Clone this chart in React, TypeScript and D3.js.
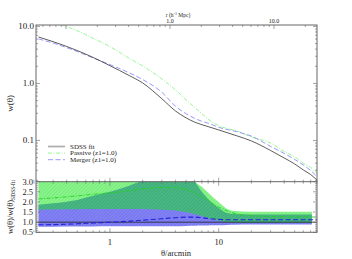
import React from 'react';
import * as d3 from 'd3';

// upper panel: w(theta) curves
const theta = [0.22, 0.3, 0.5, 0.7, 1, 1.5, 2, 3, 4, 5, 6, 7, 8, 10, 15, 20, 30, 40, 50, 60, 70, 80];
const wSdss = [6.54, 5.41, 3.78, 2.86, 2.05, 1.38, 1.02, 0.54, 0.33, 0.25, 0.21, 0.189, 0.175, 0.153, 0.119, 0.098, 0.0667, 0.0493, 0.0387, 0.0304, 0.0253, 0.0203];
const wPassive = [14.7, 12, 8.4, 6.2, 4.44, 2.77, 2.03, 1.2, 0.775, 0.52, 0.38, 0.295, 0.236, 0.182, 0.145, 0.115, 0.0902, 0.0641, 0.0514, 0.0398, 0.0336, 0.0266];
const wMerger = [6.04, 5.11, 3.63, 2.81, 2.14, 1.54, 1.17, 0.7, 0.4, 0.295, 0.245, 0.217, 0.201, 0.17, 0.141, 0.119, 0.0787, 0.0594, 0.0464, 0.0372, 0.0298, 0.0233];

// lower panel: ratio bands and mean ratios
const bandTheta = [0.22, 0.3, 0.5, 0.7, 1, 1.5, 2, 3, 4, 5, 6, 7, 8, 9, 10, 12, 14, 20, 30, 50, 72];
const passiveHi = [3.5, 3.5, 3.5, 3.5, 3.5, 3.5, 3.5, 3.5, 3.5, 3.3, 3.0, 2.75, 2.45, 2.2, 2.0, 1.65, 1.55, 1.52, 1.52, 1.52, 1.52];
const passiveLo = [1.62, 1.63, 1.64, 1.65, 1.65, 1.65, 1.65, 1.62, 1.58, 1.5, 1.4, 1.3, 1.2, 1.12, 1.08, 1.0, 0.98, 0.97, 0.97, 0.97, 0.97];
const mergerHi = [1.86, 1.93, 2.1, 2.3, 2.5, 2.8, 3.05, 3.3, 3.3, 3.2, 3.0, 2.5, 2.15, 1.9, 1.7, 1.45, 1.4, 1.38, 1.38, 1.38, 1.38];
const mergerLo = [0.78, 0.78, 0.79, 0.79, 0.8, 0.8, 0.8, 0.8, 0.8, 0.81, 0.82, 0.83, 0.84, 0.85, 0.85, 0.86, 0.87, 0.88, 0.88, 0.88, 0.88];

const lineTheta = [0.22, 0.3, 0.5, 0.7, 1, 1.5, 2, 3, 4, 5, 6, 7, 8, 10, 12, 15, 20, 30, 40, 50, 60, 80];
const passiveRatio = [2.15, 2.2, 2.3, 2.38, 2.45, 2.55, 2.65, 2.72, 2.7, 2.62, 2.45, 2.25, 2.05, 1.75, 1.55, 1.4, 1.32, 1.28, 1.27, 1.26, 1.26, 1.25];
const mergerRatio = [0.87, 0.88, 0.92, 0.96, 1.0, 1.05, 1.1, 1.17, 1.22, 1.25, 1.25, 1.22, 1.18, 1.14, 1.12, 1.12, 1.12, 1.12, 1.12, 1.12, 1.12, 1.12];

const upperTicks = [0.1, 1, 10];
const upperTickLabels = ['0.1', '1.0', '10.0'];
const lowerTicks = [0.5, 1.0, 1.5, 2.0, 2.5, 3.0];
const thetaTicks = [1, 10];
const rTicks = [1, 10];
const rTickLabels = ['1.0', '10.0'];

const legendItems = ['SDSS fit', 'Passive (z1=1.0)', 'Merger (z1=1.0)'];

const W = 352;
const H = 259;
const left = 36;
const right = 317;
const top = 25;
const mid = 181.7;
const bottom = 232.3;
const font = 'Liberation Serif, DejaVu Serif, serif';
const frame = '#666';

function logMinors(lo: number, hi: number) {
  const out: { v: number; major: boolean }[] = [];
  for (let e = Math.floor(Math.log10(lo)); e <= Math.ceil(Math.log10(hi)); e++) {
    for (let k = 1; k <= 9; k++) {
      const v = k * Math.pow(10, e);
      if (v >= lo && v <= hi) out.push({ v, major: k === 1 });
    }
  }
  return out;
}

export default function App() {
  const x = d3.scaleLog().domain([0.209, 80.2]).range([left, right]);
  const xr = d3.scaleLog().domain([0.0515, 25.9]).range([left, right]);
  const yU = d3.scaleLog().domain([0.0189, 10.6]).range([mid, top]);
  const yL = d3.scaleLinear().domain([0.5, 3.0]).range([bottom, mid]);

  const upLine = (vals: number[]) =>
    d3.line<number>().x((_, i) => x(theta[i])).y(d => yU(d)).curve(d3.curveMonotoneX)(vals) || '';
  const loLine = (vals: number[]) =>
    d3.line<number>().x((_, i) => x(lineTheta[i])).y(d => yL(d)).curve(d3.curveMonotoneX)(vals) || '';
  const band = (lo: number[], hi: number[]) =>
    d3.area<number>().x((_, i) => x(bandTheta[i])).y0((_, i) => yL(lo[i])).y1((_, i) => yL(hi[i])).curve(d3.curveMonotoneX)(lo) || '';

  const xMinor = logMinors(0.2, 80);
  const rMinor = logMinors(0.06, 25);
  const yUMinor = logMinors(0.02, 10.6);
  const yLMinor = d3.range(0.5, 3.01, 0.1);

  return (
    <svg width={W} height={H} style={{ position: 'absolute', left: 0, top: 0 }} fontFamily={font}>
      <defs>
        <clipPath id="clipU"><rect x={left} y={top} width={right - left} height={mid - top} /></clipPath>
        <clipPath id="clipL"><rect x={left} y={mid} width={right - left} height={bottom - mid} /></clipPath>
        <pattern id="hatchB" width={2.5} height={2.5} patternUnits="userSpaceOnUse" patternTransform="rotate(45)">
          <rect width={2.5} height={2.5} fill="#8282f4" />
          <line x1={0} y1={0} x2={0} y2={2.5} stroke="#6464e4" strokeWidth={0.8} />
        </pattern>
        <pattern id="hatchG" width={2.5} height={2.5} patternUnits="userSpaceOnUse" patternTransform="rotate(45)">
          <rect width={2.5} height={2.5} fill="rgba(20,235,20,0.5)" />
          <line x1={0} y1={0} x2={0} y2={2.5} stroke="rgba(0,150,60,0.3)" strokeWidth={0.8} />
        </pattern>
      </defs>
      <rect x={0} y={0} width={W} height={H} fill="#fff" />

      {/* upper panel curves */}
      <g clipPath="url(#clipU)" fill="none">
        <path d={upLine(wPassive)} stroke="#7cf27c" strokeWidth={0.8} strokeDasharray="4,1.5,1,1.5" />
        <path d={upLine(wMerger)} stroke="#7d7df5" strokeWidth={0.8} strokeDasharray="5,2.5" />
        <path d={upLine(wSdss)} stroke="#333" strokeWidth={0.8} />
      </g>

      {/* lower panel bands */}
      <g clipPath="url(#clipL)">
        <path d={band(mergerLo, mergerHi)} fill="url(#hatchB)" />
        <path d={band(passiveLo, passiveHi)} fill="url(#hatchG)" />
        <line x1={left} x2={right} y1={yL(1)} y2={yL(1)} stroke="#222" strokeWidth={0.8} />
        <path d={loLine(passiveRatio)} fill="none" stroke="#1fd21f" strokeWidth={0.9} strokeDasharray="4,1.5,1,1.5" />
        <path d={loLine(mergerRatio)} fill="none" stroke="#2222d8" strokeWidth={1.1} strokeDasharray="5,2.5" />
      </g>

      {/* frames */}
      <rect x={left} y={top} width={right - left} height={bottom - top} fill="none" stroke={frame} strokeWidth={1} />
      <line x1={left} x2={right} y1={mid} y2={mid} stroke={frame} strokeWidth={1} />

      {/* theta ticks: upper bottom, lower top, lower bottom */}
      {xMinor.map((t, i) => {
        const xx = x(t.v);
        const l = t.major ? 4 : 2;
        return (
          <g key={'xt' + i} stroke={frame} strokeWidth={0.6}>
            <line x1={xx} x2={xx} y1={mid} y2={mid - l} />
            <line x1={xx} x2={xx} y1={mid} y2={mid + l} />
            <line x1={xx} x2={xx} y1={bottom} y2={bottom - l} />
          </g>
        );
      })}
      {/* r ticks on top */}
      {rMinor.map((t, i) => {
        const xx = xr(t.v);
        return <line key={'rt' + i} x1={xx} x2={xx} y1={top} y2={top + (t.major ? 4 : 2)} stroke={frame} strokeWidth={0.6} />;
      })}
      {/* upper y ticks */}
      {yUMinor.map((t, i) => {
        const yy = yU(t.v);
        const l = t.major ? 4 : 2;
        return (
          <g key={'yu' + i} stroke={frame} strokeWidth={0.6}>
            <line x1={left} x2={left + l} y1={yy} y2={yy} />
            <line x1={right} x2={right - l} y1={yy} y2={yy} />
          </g>
        );
      })}
      {/* lower y ticks */}
      {yLMinor.map((v, i) => {
        const yy = yL(v);
        const major = Math.abs(v * 2 - Math.round(v * 2)) < 1e-6;
        const l = major ? 4 : 2;
        return (
          <g key={'yl' + i} stroke={frame} strokeWidth={0.6}>
            <line x1={left} x2={left + l} y1={yy} y2={yy} />
            <line x1={right} x2={right - l} y1={yy} y2={yy} />
          </g>
        );
      })}

      {/* tick labels */}
      {upperTicks.map((v, i) => (
        <text key={'ul' + i} x={left - 2} y={yU(v) + 3} fontSize={9} textAnchor="end" fill="#222">{upperTickLabels[i]}</text>
      ))}
      {lowerTicks.map((v, i) => (
        <text key={'ll' + i} x={left - 3} y={yL(v) + 3} fontSize={8.5} textAnchor="end" fill="#222">{v.toFixed(1)}</text>
      ))}
      {thetaTicks.map((v, i) => (
        <text key={'tl' + i} x={x(v)} y={245} fontSize={8.5} textAnchor="middle" fill="#222">{v}</text>
      ))}
      {rTicks.map((v, i) => (
        <text key={'rl' + i} x={xr(v)} y={23} fontSize={6} textAnchor="middle" fill="#222">{rTickLabels[i]}</text>
      ))}

      {/* axis titles */}
      <text x={178} y={17} fontSize={5.5} textAnchor="middle" fill="#222">
        r (h<tspan fontSize={4} dy={-2}>-1</tspan><tspan dy={2}> Mpc)</tspan>
      </text>
      <text x={176} y={256} fontSize={8.5} textAnchor="middle" fill="#222">θ/arcmin</text>
      <text transform={`translate(13,${(top + mid) / 2}) rotate(-90)`} fontSize={9} textAnchor="middle" fill="#222">w(θ)</text>
      <text transform={`translate(13,${(mid + bottom) / 2}) rotate(-90)`} fontSize={8.5} textAnchor="middle" fill="#222">
        w(θ)/w(θ)<tspan fontSize={5.5} dy={2}>SDSS-fit</tspan>
      </text>

      {/* legend */}
      {legendItems.map((s, i) => {
        const yy = 146.5 + i * 6.6;
        return (
          <g key={'lg' + i}>
            {i === 0 && <line x1={48} x2={65} y1={yy} y2={yy} stroke="#b0b0b0" strokeWidth={1.8} />}
            {i === 1 && <line x1={48} x2={65} y1={yy} y2={yy} stroke="#7cf27c" strokeWidth={0.8} strokeDasharray="4,1.5,1,1.5" />}
            {i === 2 && <line x1={48} x2={65} y1={yy} y2={yy} stroke="#7d7df5" strokeWidth={0.8} strokeDasharray="5,2.5" />}
            <text x={70} y={yy + 2.3} fontSize={7} fill="#222">{s}</text>
          </g>
        );
      })}
    </svg>
  );
}
